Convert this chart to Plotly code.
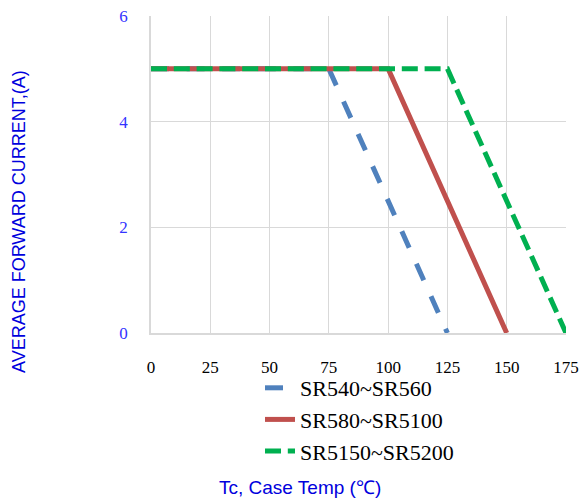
import plotly.graph_objects as go

series_names = ["SR540~SR560", "SR580~SR5100", "SR5150~SR5200"]
temps_a = [0, 75, 125]
current_a = [5, 5, 0]
temps_b = [0, 100, 150]
current_b = [5, 5, 0]
temps_c = [0, 125, 175]
current_c = [5, 5, 0]
x_ticks = [0, 25, 50, 75, 100, 125, 150, 175]
y_ticks = [0, 2, 4, 6]

colors = ["#4F81BD", "#C0504D", "#00B050"]
dashes = ["18px,17.6px", "solid", "16px,6.8px"]

W, H = 581, 501
L, T, PW, PH = 151, 16, 415, 317

def px_x(p):  # figure pixel -> paper x
    return (p - L) / PW

def px_y(p):  # figure pixel -> paper y
    return (T + PH - p) / PH

fig = go.Figure()
for name, xs, ys, c, d in zip(series_names, [temps_a, temps_b, temps_c],
                              [current_a, current_b, current_c], colors, dashes):
    fig.add_trace(go.Scatter(x=xs, y=ys, mode="lines", name=name,
                             line=dict(color=c, width=5, dash=d)))

fig.update_layout(
    width=W, height=H,
    margin=dict(l=L, r=W - L - PW, t=T, b=H - T - PH, autoexpand=False),
    plot_bgcolor="white", paper_bgcolor="white",
    showlegend=True,
    legend=dict(
        xref="paper", yref="paper",
        x=px_x(260), y=px_y(367), xanchor="left", yanchor="top",
        font=dict(family="Liberation Serif", size=22, color="#000000"),
        bgcolor="rgba(0,0,0,0)", tracegroupgap=0,
    ),
    annotations=[
        dict(text="AVERAGE FORWARD CURRENT,(A)", textangle=-90,
             xref="paper", yref="paper", x=px_x(19), y=px_y(222),
             xanchor="center", yanchor="middle",
             showarrow=False, font=dict(family="Liberation Sans", size=18, color="#0000DD")),
        dict(text="Tc, Case Temp (℃)",
             xref="paper", yref="paper", x=px_x(300), y=px_y(487),
             xanchor="center", yanchor="middle",
             showarrow=False, font=dict(family="Liberation Sans", size=19, color="#0000DD")),
    ],
)
fig.update_xaxes(
    range=[0, 175], tickvals=x_ticks, ticktext=[str(v) for v in x_ticks],
    showgrid=True, gridcolor="#D9D9D9", gridwidth=1,
    showline=True, linecolor="#D9D9D9", linewidth=1.5,
    zeroline=False, ticks="", ticklabelstandoff=18, automargin=False,
    tickfont=dict(family="Liberation Serif", size=17, color="#000000"),
)
fig.update_yaxes(
    range=[0, 6], tickvals=y_ticks, ticktext=[str(v) for v in y_ticks],
    showgrid=True, gridcolor="#D9D9D9", gridwidth=1,
    showline=True, linecolor="#D9D9D9", linewidth=1.5,
    zeroline=False, ticks="", ticklabelstandoff=18, automargin=False,
    tickfont=dict(family="Liberation Serif", size=17, color="#3333FF"),
)

fig.write_html("out.html", config={"displayModeBar": False},
               post_script="document.body.style.margin='0';")
